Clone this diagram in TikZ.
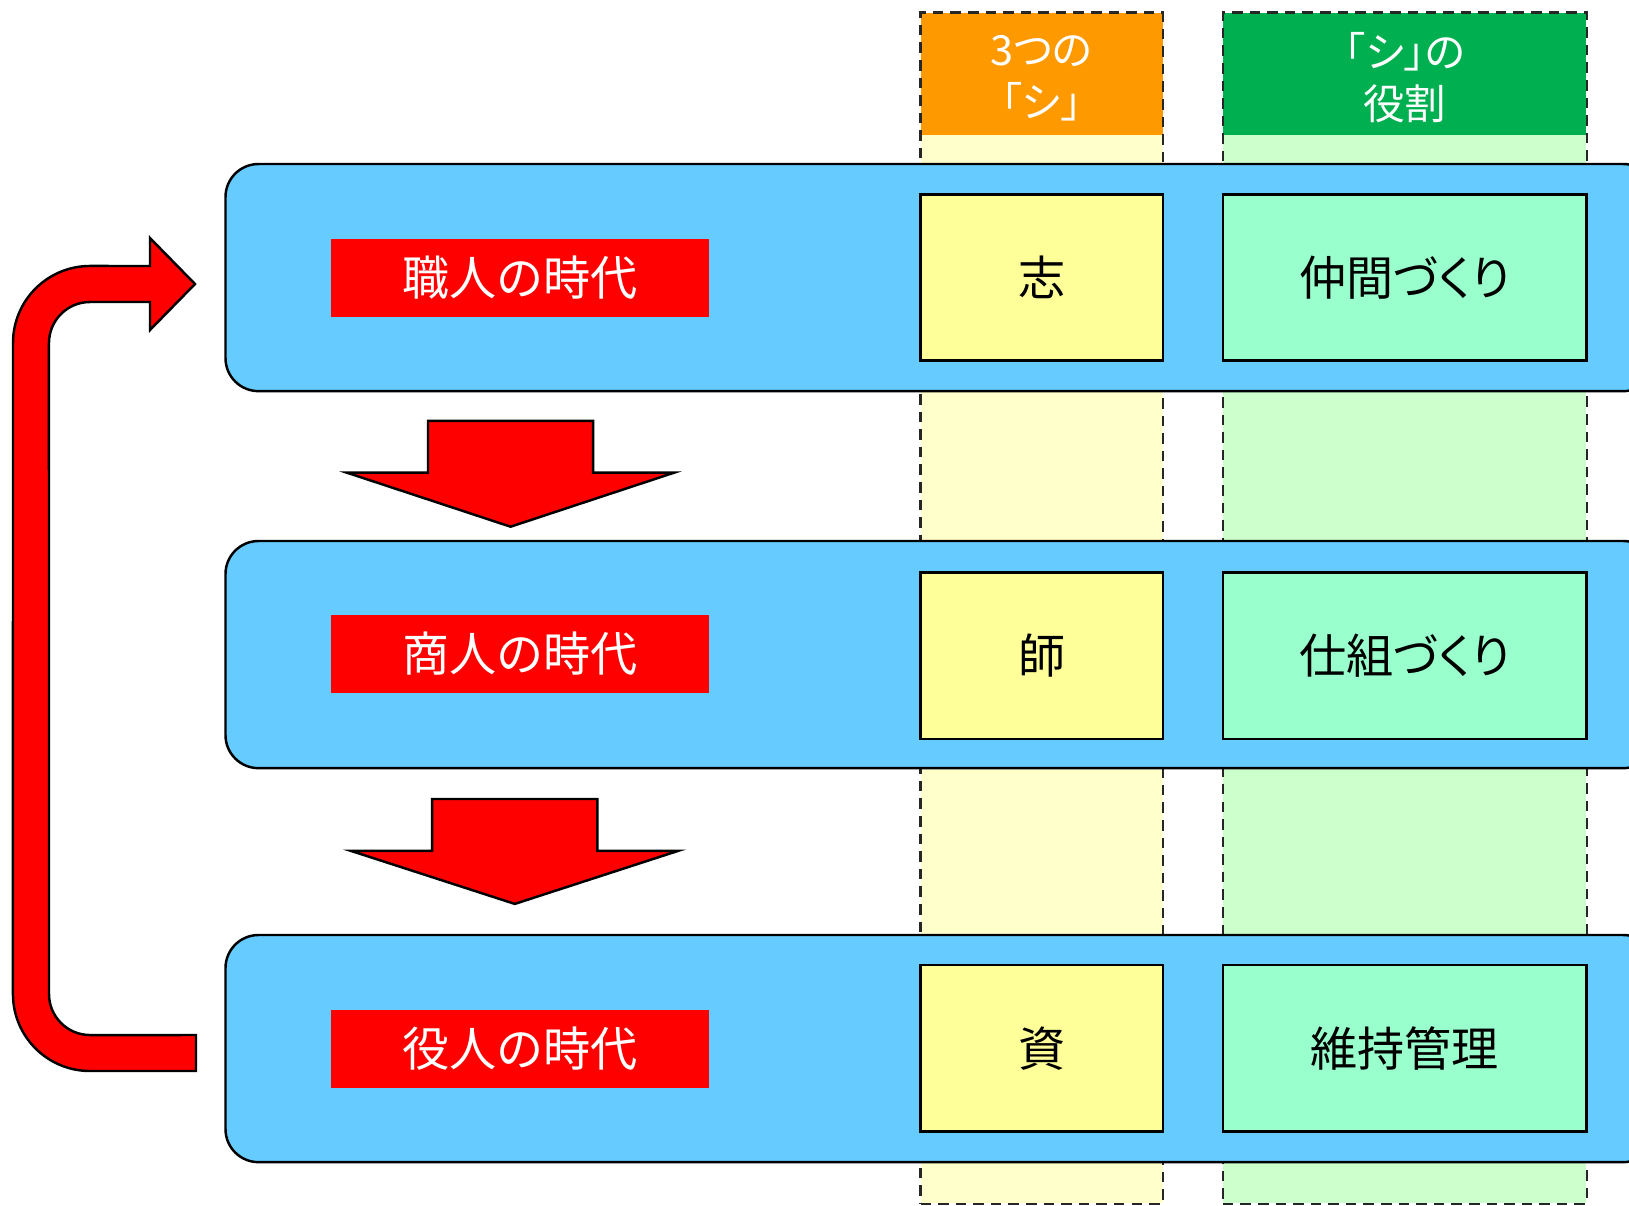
\documentclass[tikz,border=0pt]{standalone}
\usepackage{fontspec}
\setmainfont{Noto Sans CJK JP}
\newfontfamily\jpp[RawFeature=+palt]{Noto Sans CJK JP}
\definecolor{bluebg}{HTML}{66CCFF}
\definecolor{redlab}{HTML}{FF0000}
\definecolor{yelbox}{HTML}{FFFF99}
\definecolor{grnbox}{HTML}{99FFCC}
\definecolor{orghead}{HTML}{FF9900}
\definecolor{grnhead}{HTML}{00B050}
\definecolor{paleyel}{HTML}{FFFFCC}
\definecolor{palegrn}{HTML}{CCFFCC}
\tikzset{
  base/.style={rectangle, inner sep=0pt, outer sep=0pt, anchor=north west},
  colbox/.style={base, draw=black!85, dashed, dash pattern=on 3pt off 2pt, line width=0.6pt},
  headbox/.style={base, text=white, align=center, font=\jpp\fontsize{11.8}{14.8}\selectfont},
  rowbox/.style={base, draw=black, line width=0.7pt, fill=bluebg, rounded corners=0.33cm,
     minimum width=14.3cm, minimum height=2.27cm},
  labbox/.style={base, fill=redlab, text=white, minimum width=3.772cm, minimum height=0.78cm,
     font=\fontsize{13.4}{16}\selectfont},
  ybox/.style={base, draw=black, line width=0.7pt, fill=yelbox, minimum width=2.421cm,
     minimum height=1.662cm, font=\fontsize{13.4}{16}\selectfont},
  gbox/.style={base, draw=black, line width=0.7pt, fill=grnbox, minimum width=3.636cm,
     minimum height=1.662cm, font=\fontsize{13.4}{16}\selectfont},
  redshape/.style={fill=redlab, draw=black, line width=0.7pt, line join=miter},
}
\begin{document}
\begin{tikzpicture}[x=0.01cm, y=-0.01cm]
\useasboundingbox (0,0) rectangle (1629,1205);
% columns
\fill[paleyel] (920.5,12.5) rectangle (1162.6,1203);
\fill[palegrn] (1222.8,12.5) rectangle (1586.4,1203);
\fill[orghead] (920.5,12.5) rectangle (1162.6,135);
\fill[grnhead] (1222.8,12.5) rectangle (1586.4,135);
\node[headbox, minimum width=2.421cm, minimum height=1.225cm] (h1) at (920.5,16.5) {3つの\\「シ」};
\node[headbox, minimum width=3.636cm, minimum height=1.225cm] (h2) at (1222.8,16.5) {「シ」の\\役割};
\node[colbox, minimum width=2.421cm, minimum height=11.905cm] (c1) at (920.5,12.5) {};
\node[colbox, minimum width=3.636cm, minimum height=11.905cm] (c2) at (1222.8,12.5) {};
% rows
\node[rowbox] (r1) at (225.5,164) {};
\node[rowbox] (r2) at (225.5,541) {};
\node[rowbox] (r3) at (225.5,935) {};
% labels
\node[labbox] (l1) at (331.4,239) {職人の時代};
\node[labbox] (l2) at (331.4,615) {商人の時代};
\node[labbox] (l3) at (331.4,1010) {役人の時代};
% yellow boxes
\node[ybox] (y1) at (920.5,194.3) {志};
\node[ybox] (y2) at (920.5,572.5) {師};
\node[ybox] (y3) at (920.5,965.2) {資};
% green boxes
\node[gbox] (g1) at (1222.8,194.3) {\jpp 仲間づくり};
\node[gbox] (g2) at (1222.8,572.5) {\jpp 仕組づくり};
\node[gbox] (g3) at (1222.8,965.2) {維持管理};
% down arrows
\draw[redshape] (428,420.8) -- (593.2,420.8) -- (593.2,472.7) -- (674,472.7) -- (510.6,526.7)
  -- (347,472.7) -- (428,472.7) -- cycle;
\draw[redshape] (432.2,799) -- (597.4,799) -- (597.4,850.9) -- (678,850.9) -- (514.8,903.9)
  -- (351,850.9) -- (432.2,850.9) -- cycle;
% U-turn arrow
\draw[redshape] (196,1071) -- (90,1071) arc[start angle=270, end angle=180, radius=0.77cm]
  -- (13,343) arc[start angle=180, end angle=90, radius=0.77cm]
  -- (150,266) -- (150,238) -- (195,284) -- (150,330) -- (150,302) -- (90,302)
  arc[start angle=90, end angle=180, radius=0.41cm]
  -- (49,994) arc[start angle=180, end angle=270, radius=0.41cm]
  -- (196,1035) -- cycle;
\end{tikzpicture}
\end{document}
